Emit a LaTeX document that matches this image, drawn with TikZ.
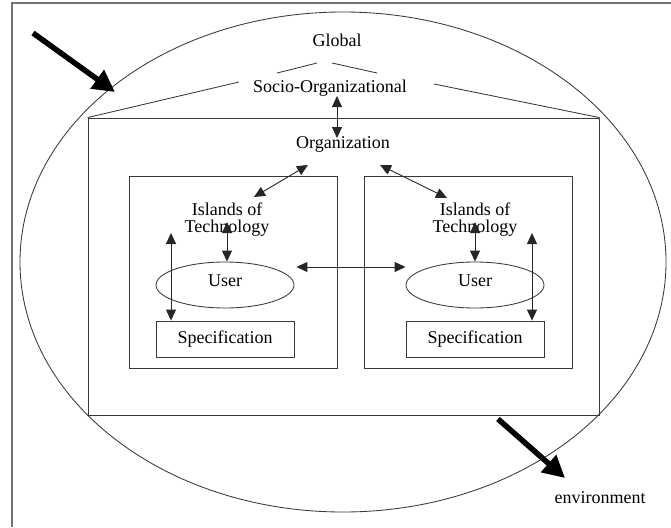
\documentclass[tikz,border=0pt]{standalone}
\usepackage{fontspec}
\setmainfont{Liberation Serif}
\usetikzlibrary{arrows.meta,shapes.geometric}
\begin{document}
\begin{tikzpicture}[x=1pt,y=-1pt,
  lbl/.style={inner sep=0pt, font=\fontsize{18}{17}\selectfont, text=black},
  onelbl/.style={lbl, text height=12.5pt, text depth=4pt},
  thinline/.style={draw=black!78, line width=0.85pt},
  frameline/.style={draw=black!55, line width=1.3pt},
  both/.style={draw=black!85, line width=0.9pt,
    {Triangle[length=11pt,width=10pt]}-{Triangle[length=11pt,width=10pt]}},
  bigarrow/.style={draw=black, line width=5.5pt, -{Triangle[length=22pt,width=22pt]}},
  panel/.style={thinline, rectangle, inner sep=0pt},
  userbox/.style={thinline, ellipse, inner sep=0pt, minimum width=138pt, minimum height=46pt},
  specbox/.style={thinline, rectangle, inner sep=0pt, minimum width=138pt, minimum height=36pt,
    font=\fontsize{18}{17}\selectfont},
]
\useasboundingbox (0,0) rectangle (671,527);

% page frame
\draw[frameline] (12,527) -- (12,3) -- (671,3);

% the environment: outer oval
\draw[thinline] (343,262) ellipse [x radius=323, y radius=250];

% organization frame and the two technology islands
\node[panel, minimum width=511pt, minimum height=297pt] (orgframe) at (343.5,266.5) {};
\node[panel, minimum width=208pt, minimum height=192pt] (leftisle) at (233,272) {};
\node[panel, minimum width=208pt, minimum height=192pt] (rightisle) at (468,272) {};

% level labels
\node[onelbl] (global) at (337,42) {Global};
\node[onelbl] (socio) at (330,88) {Socio-Organizational};
\node[onelbl] (org) at (343,144) {Organization};
\node[lbl, align=center] (isl1) at (227,220) {Islands of\\Technology};
\node[lbl, align=center] (isl2) at (475,220) {Islands of\\Technology};
\node[userbox] (user1) at (225,285) {};
\node[userbox] (user2) at (475,285) {};
\node[onelbl] (user1txt) at (225,282) {User};
\node[onelbl] (user2txt) at (475,282) {User};
\node[specbox] (spec1) at (225,339) {Specification};
\node[specbox] (spec2) at (475,339) {Specification};
\node[onelbl] (env) at (600,499) {environment};

% perspective lines from the frame up to the global level
\coordinate (trapL) at (239,82);
\coordinate (trapR) at (434,84);
\coordinate (roofL1) at (277,73);
\coordinate (roofL2) at (317,63);
\coordinate (roofR1) at (332,63);
\coordinate (roofR2) at (377,73);
\draw[thinline] (orgframe.north west) -- (trapL);
\draw[thinline] (trapR) -- (orgframe.north east);
\draw[thinline] (roofL1) -- (roofL2);
\draw[thinline] (roofR1) -- (roofR2);

% links between levels
\coordinate (socioTip) at (337,96);
\coordinate (orgTip) at (337,138);
\draw[both] (socioTip) -- (orgTip);

\coordinate (orgL) at (308,165);
\coordinate (isl1Tip) at (254,197);
\draw[both] (orgL) -- (isl1Tip);
\coordinate (orgR) at (380,165);
\coordinate (isl2Tip) at (447,198);
\draw[both] (orgR) -- (isl2Tip);

\coordinate (isl1Low) at (227,222);
\draw[both] (isl1Low) -- (isl1Low |- user1.north);
\coordinate (isl2Low) at (475,222);
\draw[both] (isl2Low) -- (isl2Low |- user2.north);

\coordinate (side1) at (171,233);
\draw[both] (side1) -- (side1 |- spec1.north);
\coordinate (side2) at (532,233);
\draw[both] (side2) -- (side2 |- spec2.north);

\draw[both] ([yshift=18pt,xshift=2pt]user1.east) -- ([yshift=18pt]user2.west);

% influence from outside and out to the environment
\coordinate (inStart) at (33,33);
\coordinate (inEnd) at (115,92);
\draw[bigarrow] (inStart) -- (inEnd);
\coordinate (outStart) at (498,419);
\coordinate (outEnd) at (565,478);
\draw[bigarrow] (outStart) -- (outEnd);
\end{tikzpicture}
\end{document}
